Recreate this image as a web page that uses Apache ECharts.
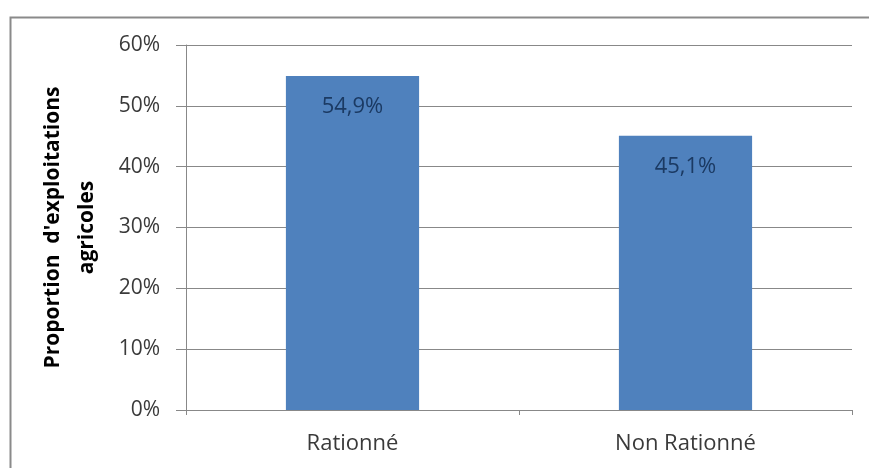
<!DOCTYPE html>
<html>
<head>
<meta charset="utf-8">
<script src="https://cdn.jsdelivr.net/npm/echarts@6/dist/echarts.min.js"></script>
<style>
html,body{margin:0;padding:0;background:#fff;}
#chart{width:869px;height:468px;}
</style>
</head>
<body>
<div id="chart"></div>
<script>
var categories = ['Rationné', 'Non Rationné'];
var values = [54.9, 45.1];
var valueLabels = ['54,9%', '45,1%'];
var yTicks = [0, 10, 20, 30, 40, 50, 60];
var yTitle = "Proportion  d'exploitations\nagricoles";

var chart = echarts.init(document.getElementById('chart'), null, {renderer: 'canvas'});
var font = "'Open Sans', sans-serif";
chart.setOption({
  animation: false,
  backgroundColor: '#ffffff',
  graphic: [{
    type: 'rect',
    left: 8, top: 15,
    shape: {width: 880, height: 480},
    style: {fill: 'none', stroke: '#8a8a8a', lineWidth: 2},
    silent: true
  }],
  grid: {left: 186, right: 17, top: 45, bottom: 58},
  xAxis: {
    type: 'category',
    data: categories,
    axisLine: {show: true, lineStyle: {color: '#888888', width: 1}},
    axisTick: {show: true, length: 5, lineStyle: {color: '#888888'}},
    axisLabel: {color: '#3a3a3a', fontSize: 22, fontFamily: font, margin: 23}
  },
  yAxis: {
    type: 'value',
    min: yTicks[0], max: yTicks[yTicks.length - 1], interval: 10,
    name: yTitle,
    nameLocation: 'middle',
    nameRotate: 90,
    nameGap: 82,
    nameTextStyle: {color: '#000000', fontSize: 21, fontWeight: 'bold', fontFamily: font, lineHeight: 34, align: 'center'},
    axisLine: {show: true, lineStyle: {color: '#888888', width: 1}},
    axisTick: {show: true, length: 10, lineStyle: {color: '#888888'}},
    splitLine: {show: true, lineStyle: {color: '#888888', width: 1}},
    axisLabel: {color: '#3a3a3a', fontSize: 21, fontFamily: font, margin: 26,
      formatter: function (v) { return v + '%'; }}
  },
  series: [{
    type: 'bar',
    data: values,
    barWidth: '40%',
    itemStyle: {color: '#4F81BD'},
    label: {
      show: true,
      position: 'insideTop',
      distance: 20,
      color: '#1B3A63',
      fontSize: 22,
      fontFamily: font,
      formatter: function (p) { return valueLabels[p.dataIndex]; }
    }
  }]
});
</script>
</body>
</html>
